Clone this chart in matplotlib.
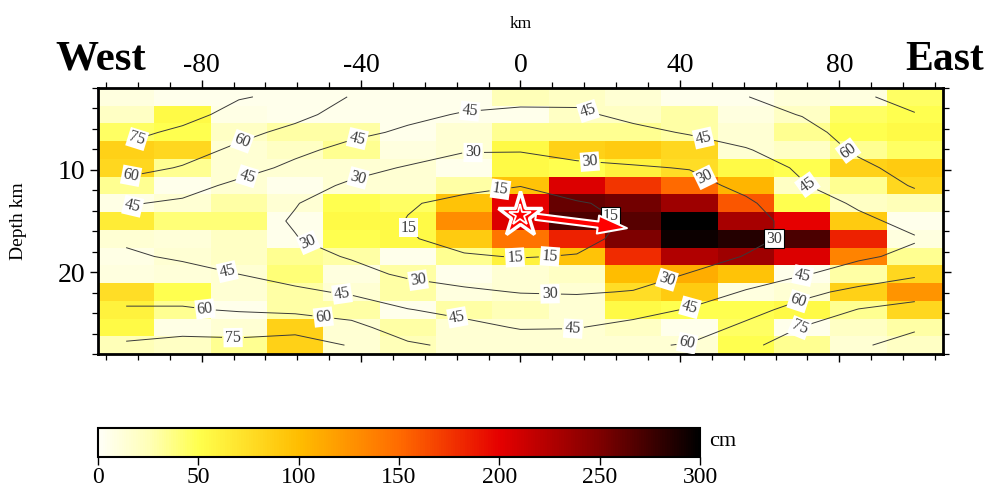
import numpy as np
import matplotlib
matplotlib.use("Agg")
import matplotlib.pyplot as plt
from matplotlib.colors import LinearSegmentedColormap
from matplotlib.ticker import MultipleLocator

plt.rcParams["font.family"] = ["Liberation Serif", "DejaVu Serif"]
plt.rcParams["axes.unicode_minus"] = False

##################################################
# Data: fault model, 15 x 15 subfaults
##################################################

strike_lim = (-106, 106)   # km along strike
depth_lim = (2, 28)        # km
n_strike = 15
n_dip = 15

# slip in cm, row 0 = shallowest subfault row, col 0 = west end
slip = np.array([
    [10, 5, 5, 5, 5, 5, 5, 25, 20, 15, 5, 5, 12, 10, 45],
    [20, 55, 8, 5, 5, 5, 5, 5, 20, 20, 30, 10, 20, 45, 50],
    [45, 50, 20, 30, 30, 5, 15, 35, 35, 35, 30, 15, 35, 50, 55],
    [85, 80, 15, 20, 35, 10, 15, 55, 85, 90, 80, 15, 20, 35, 45],
    [80, 35, 15, 15, 15, 15, 5, 55, 50, 60, 75, 55, 50, 85, 90],
    [35, 5, 15, 5, 15, 15, 30, 95, 205, 175, 150, 105, 20, 35, 80],
    [8, 15, 30, 15, 50, 45, 95, 200, 260, 255, 235, 160, 50, 20, 25],
    [65, 40, 40, 5, 55, 55, 130, 205, 270, 265, 300, 230, 200, 90, 5],
    [15, 12, 20, 5, 50, 55, 90, 145, 185, 250, 295, 285, 270, 185, 10],
    [8, 15, 20, 35, 30, 5, 35, 60, 95, 180, 225, 235, 205, 135, 35],
    [10, 12, 15, 40, 10, 30, 5, 15, 20, 100, 110, 95, 5, 30, 80],
    [75, 50, 15, 30, 15, 30, 10, 15, 15, 75, 90, 10, 15, 85, 125],
    [60, 35, 5, 30, 30, 5, 30, 25, 15, 55, 50, 50, 55, 35, 80],
    [55, 8, 15, 85, 15, 30, 15, 15, 15, 20, 5, 45, 5, 20, 30],
    [25, 20, 35, 85, 15, 25, 15, 15, 15, 15, 15, 50, 35, 15, 20],
])

# rupture time (s) at subfault centres, listed column by column (west -> east)
rupture_cols = [
    [86, 82, 79, 72, 65, 55, 46, 42, 43, 47, 51, 56, 61, 68, 77],
    [88, 80, 72, 66, 59, 50, 43, 39, 40, 43, 50, 56, 61, 70, 80],
    [76, 70, 64, 57, 50, 42, 37, 35, 36, 40, 45, 53, 59, 68, 80],
    [72, 64, 56, 48, 42, 35, 30.5, 29, 30.5, 34, 39, 48, 57, 70, 82],
    [59, 54, 48, 41, 34, 28, 24, 22, 24, 29, 34, 43, 54, 64, 74],
    [55, 48, 43, 36, 29, 22, 16, 14.5, 16, 21, 28, 36, 45.5, 53, 62],
    [50, 44, 38, 31, 24, 18, 12, 9, 11, 16, 25, 32, 41, 49, 57],
    [49, 42, 36, 31, 22, 15.5, 6, 4, 9, 14.5, 21, 29.5, 37, 44, 53],
    [48, 43, 38, 33, 28, 21, 14, 11, 12, 15.5, 23, 29, 36, 44.5, 52],
    [55, 48, 42, 35, 29, 24, 18, 16.5, 18, 21, 25, 30.5, 40, 49, 58],
    [57, 52, 46, 39, 30.5, 26, 23, 21, 22, 25, 30.5, 38, 46, 53, 61],
    [59.5, 56, 51, 44, 38, 33, 28, 26, 27, 30.5, 38, 46, 55, 63, 71],
    [68, 60.5, 56, 52, 47, 44, 38, 34, 33, 38, 44, 56, 65, 75.5, 84],
    [72, 68, 65, 62, 57, 53, 47, 42, 40, 43, 51, 64, 75.5, 82, 88],
    [82, 74, 71, 68, 65, 61, 55, 49, 44, 48, 58, 69, 80, 88, 96],
]
rupture_time = np.array(rupture_cols).T

contour_levels = [15, 30, 45, 60, 75, 90]
labelled_levels = [15, 30, 45, 60, 75]

# where the contour labels sit (km along strike, depth km)
label_spots = [
    (-5.1, 11.7), (-28.5, 15.8), (-1.4, 18.6), (7.4, 18.6), (23.2, 14.2),
    (-41.0, 10.4), (-11.9, 8.35), (17.4, 9.1), (46.8, 10.3), (64.6, 17.2),
    (36.8, 20.8), (7.4, 22.2), (-25.7, 20.8), (-53.6, 17.4),
    (-97.2, 13.7), (-68.6, 10.6), (-41.0, 6.8), (-12.7, 4.3), (16.9, 4.3),
    (45.8, 7.0), (72.1, 11.4), (70.9, 20.5), (42.5, 23.4), (13.2, 25.7),
    (-15.9, 24.5), (-44.8, 22.2), (-73.6, 20.0),
    (-97.5, 11.0), (-69.9, 7.1), (81.9, 8.3), (69.6, 22.7), (41.8, 26.8),
    (-49.5, 24.5), (-79.2, 23.7),
    (-95.9, 7.3), (-72.1, 26.1), (70.1, 25.5),
]

hypocenter = (0.0, 14.4)
slip_direction_tip = (26.7, 15.7)

cbar_ticks = [0, 50, 100, 150, 200, 250, 300]

##################################################
# Colour map: white -> yellow -> orange -> red -> black
##################################################

slip_cmap = LinearSegmentedColormap.from_list("slip_hot", [
    (0.0, (1.0, 1.0, 0.97)),
    (25 / 300, (1.0, 1.0, 0.72)),
    (50 / 300, (1.0, 1.0, 0.3)),
    (100 / 300, (1.0, 0.74, 0.0)),
    (150 / 300, (1.0, 0.42, 0.0)),
    (200 / 300, (0.9, 0.0, 0.0)),
    (250 / 300, (0.5, 0.0, 0.0)),
    (1.0, (0.0, 0.0, 0.0)),
])

##################################################
# Figure
##################################################

fig = plt.figure(figsize=(9.87, 4.93), dpi=100)
ax = fig.add_axes([0.0993, 0.2819, 0.8561, 0.5396])

x_edges = np.linspace(strike_lim[0], strike_lim[1], n_strike + 1)
z_edges = np.linspace(depth_lim[0], depth_lim[1], n_dip + 1)
x_mid = 0.5 * (x_edges[:-1] + x_edges[1:])
z_mid = 0.5 * (z_edges[:-1] + z_edges[1:])

mesh = ax.pcolormesh(x_edges, z_edges, slip, cmap=slip_cmap, vmin=0, vmax=300,
                     shading="flat")

cs = ax.contour(x_mid, z_mid, rupture_time, levels=contour_levels,
                colors="#3a3a3a", linewidths=0.7)
labels = ax.clabel(cs, labelled_levels, manual=label_spots, inline=True,
                   inline_spacing=3, fmt="%d", fontsize=11.5)
for t in labels:
    lx, lz = t.get_position()
    ci = int(np.clip(np.searchsorted(x_edges, lx) - 1, 0, n_strike - 1))
    ri = int(np.clip(np.searchsorted(z_edges, lz) - 1, 0, n_dip - 1))
    dark = slip[ri, ci] > 200
    t.set_bbox(dict(boxstyle="square,pad=0.1", fc="white",
                    ec="black" if dark else "none", lw=0.8))
    # labels on the dark patch and near-vertical ones are written level
    rot = t.get_rotation() % 180
    if dark or 50 < rot < 130:
        t.set_rotation(0)

# slip direction arrow and hypocentre star
ax.annotate("", xy=slip_direction_tip, xytext=hypocenter,
            arrowprops=dict(arrowstyle="simple,head_length=2.1,head_width=1.3,tail_width=0.45",
                            fc="red", ec="white", lw=1.5, shrinkA=11, shrinkB=0),
            zorder=6)
ax.plot(*hypocenter, marker="*", ms=34, mfc="red", mec="white", mew=2.5, zorder=7)
ax.plot(*hypocenter, marker="*", ms=16, mfc="red", mec="white", mew=1.3, zorder=8)

ax.set_xlim(*strike_lim)
ax.set_ylim(depth_lim[1], depth_lim[0])

ax.set_xticks([-80, -40, 0, 40, 80])
ax.xaxis.set_minor_locator(MultipleLocator(8))
ax.set_yticks([10, 20])
ax.yaxis.set_minor_locator(MultipleLocator(2))
ax.tick_params(axis="x", which="both", top=True, bottom=True, labeltop=True,
               labelbottom=False, direction="out")
ax.tick_params(axis="y", which="both", left=True, right=True, direction="out")
ax.tick_params(which="major", length=6, width=1.0, labelsize=20, pad=3)
ax.tick_params(axis="x", which="major", pad=1)
ax.tick_params(which="minor", length=4, width=0.9)
ax.xaxis.set_label_position("top")
ax.set_xlabel("km", fontsize=12.5, labelpad=18)
ax.set_ylabel("Depth km", fontsize=14, labelpad=22)
for s in ax.spines.values():
    s.set_linewidth(2.0)

fig.text(55 / 987, 1 - 70 / 493, "West", ha="left", va="baseline",
         fontsize=31, fontweight="bold")
fig.text(984 / 987, 1 - 70 / 493, "East", ha="right", va="baseline",
         fontsize=30, fontweight="bold")

##################################################
# Colour bar
##################################################

cax = fig.add_axes([0.0993, 0.073, 0.610, 0.0588])
cb = fig.colorbar(mesh, cax=cax, orientation="horizontal", ticks=cbar_ticks)
cb.outline.set_linewidth(1.5)
cax.tick_params(length=6, width=1.0, labelsize=17, direction="out", pad=1)
cax.text(1.015, 0.55, "cm", transform=cax.transAxes, ha="left", va="center",
         fontsize=16)

fig.savefig("out.png", dpi=100)
